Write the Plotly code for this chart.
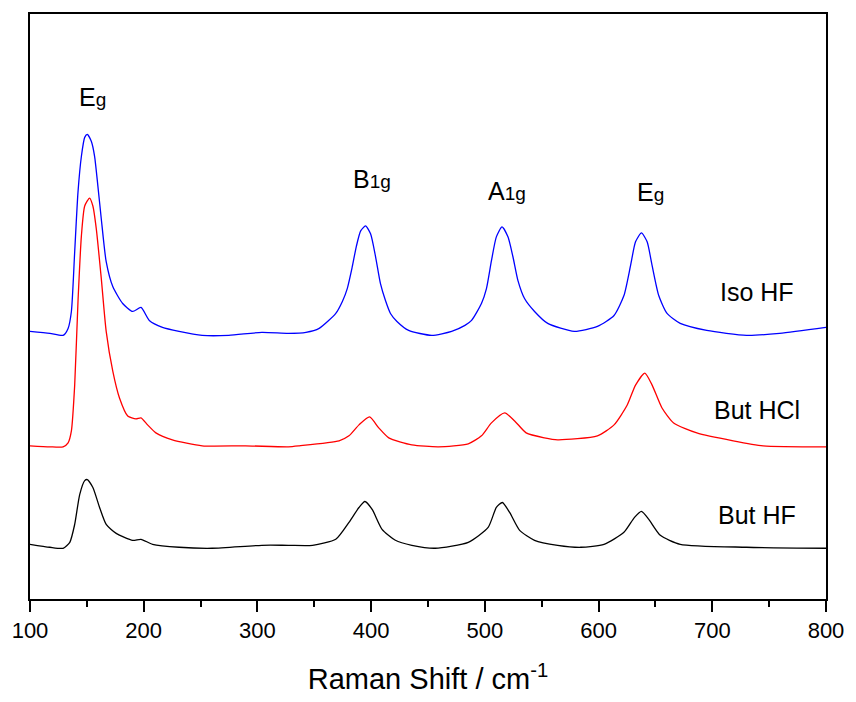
import plotly.graph_objects as go

# Raman shift (cm^-1) and intensity (arb. units)
iso_hf_x = [100.0, 117.5, 129.1, 133.5, 136.4, 139.3, 142.2, 145.2, 148.1, 150.4, 153.9, 156.8, 159.7,
            162.7, 167.0, 172.8, 181.5, 190.3, 197.6, 204.9, 216.5, 231.1, 251.4, 274.8, 303.9, 327.2,
            342.7, 354.3, 368.9, 374.7, 379.0, 383.4, 386.9, 390.8, 395.1, 399.5, 403.9, 408.2, 412.6,
            417.0, 422.7, 433.0, 453.3, 470.8, 482.5, 488.3, 497.0, 501.4, 505.8, 510.1, 515.1, 520.3,
            524.7, 529.1, 534.9, 543.7, 555.3, 578.6, 599.0, 613.6, 622.3, 628.1, 632.5, 637.7, 642.7,
            647.1, 652.9, 660.2, 671.8, 695.1, 730.1, 759.2, 800.0]
iso_hf_y = [269, 267, 265, 272, 289, 349, 409, 445, 464, 467, 460, 445, 415,
            382, 339, 314, 297, 289, 293, 280, 273, 269, 265, 265, 268, 267,
            268, 272, 287, 299, 312, 334, 354, 370, 375, 367, 344, 317, 300,
            287, 279, 270, 265, 269, 275, 280, 297, 312, 340, 364, 374, 364,
            344, 320, 302, 289, 277, 269, 274, 285, 305, 335, 359, 368, 359,
            335, 305, 287, 277, 270, 265, 267, 273]

but_hcl_x = [100.0, 117.5, 129.1, 133.5, 136.4, 139.3, 142.2, 145.2, 148.1, 152.4, 155.3, 158.3, 162.7,
             167.0, 172.8, 178.7, 185.9, 193.2, 197.6, 203.4, 210.7, 225.2, 251.4, 289.4, 327.2, 336.8,
             371.8, 380.5, 389.3, 398.6, 406.7, 415.5, 435.8, 459.2, 485.4, 497.0, 505.8, 517.5, 526.2,
             536.3, 552.4, 564.0, 599.0, 613.6, 625.2, 632.5, 640.7, 647.1, 655.8, 666.0, 686.4, 718.4,
             744.7, 800.0]
but_hcl_y = [154, 153, 153, 157, 169, 215, 299, 365, 395, 403, 395, 372, 322,
             269, 229, 202, 184, 181, 182, 175, 167, 160, 154, 154, 153, 154,
             159, 164, 175, 183, 172, 162, 155, 153, 156, 164, 177, 187, 179,
             167, 162, 160, 164, 175, 195, 215, 227, 215, 192, 177, 167, 159,
             154, 153]

but_hf_x = [100.0, 117.5, 129.1, 135.0, 139.3, 143.7, 148.1, 150.4, 155.3, 161.2, 167.0, 175.8, 190.3,
            197.6, 207.8, 231.1, 260.2, 303.9, 327.2, 348.5, 368.9, 380.5, 389.3, 394.5, 400.9, 409.6,
            421.3, 435.8, 456.3, 485.4, 502.9, 510.1, 515.4, 521.8, 530.6, 543.7, 564.0, 584.4, 604.8,
            622.3, 631.6, 637.7, 644.2, 654.3, 671.8, 730.1, 800.0]
but_hf_y = [55, 52, 51, 57, 75, 105, 119, 120, 112, 92, 75, 66, 59,
            60, 55, 52, 51, 54, 54, 54, 60, 77, 92, 98, 90, 70,
            59, 54, 51, 57, 72, 92, 97, 87, 69, 59, 54, 52, 55,
            67, 82, 88, 80, 64, 55, 52, 51]

x_ticks = [100, 200, 300, 400, 500, 600, 700, 800]
peak_labels = ["E<span style='font-size:19px'>g</span>", "B<span style='font-size:19px'>1g</span>",
               "A<span style='font-size:19px'>1g</span>", "E<span style='font-size:19px'>g</span>"]
peak_label_x = [155.1, 400.6, 519.5, 645.3]
peak_label_y = [505, 422, 410, 409]
series_names = ["Iso HF", "But HCl", "But HF"]
series_label_x = [738.9, 739.7, 739.7]
series_label_y = [309, 190, 84]

FONT = "Liberation Sans, Arial, sans-serif"

fig = go.Figure()
for xs, ys, color, name in [(iso_hf_x, iso_hf_y, "#0000FF", series_names[0]),
                            (but_hcl_x, but_hcl_y, "#FF0000", series_names[1]),
                            (but_hf_x, but_hf_y, "#000000", series_names[2])]:
    fig.add_trace(go.Scatter(x=xs, y=ys, mode="lines", name=name,
                             line=dict(color=color, width=1.3, shape="spline", smoothing=0.6),
                             showlegend=False))

for t, xv, yv in zip(peak_labels, peak_label_x, peak_label_y):
    fig.add_annotation(x=xv, y=yv, text=t, showarrow=False, xanchor="center", yanchor="middle",
                       font=dict(family=FONT, size=25, color="black"))
for t, xv, yv in zip(series_names, series_label_x, series_label_y):
    fig.add_annotation(x=xv, y=yv, text=t, showarrow=False, xanchor="center", yanchor="middle",
                       font=dict(family=FONT, size=25, color="black"))

fig.update_layout(
    width=856, height=702,
    margin=dict(l=29, r=26, t=14, b=100),
    paper_bgcolor="white", plot_bgcolor="white",
    font=dict(family=FONT, color="black"),
    xaxis=dict(range=[100, 800], tickvals=x_ticks, ticks="outside", ticklen=11, tickwidth=2,
               tickcolor="black", showline=True, linewidth=2, linecolor="black", mirror=True,
               showgrid=False, zeroline=False, tickfont=dict(family=FONT, size=22, color="black"),
               minor=dict(dtick=50, tick0=100, ticks="outside", ticklen=6, tickwidth=2, tickcolor="black",
                          showgrid=False),
               title=dict(text="Raman Shift / cm<sup>-1</sup>", font=dict(family=FONT, size=29, color="black"),
                          standoff=26)),
    yaxis=dict(range=[0, 588], showticklabels=False, ticks="", showline=True, linewidth=2,
               linecolor="black", mirror=True, showgrid=False, zeroline=False),
)

fig.write_html("out.html")
